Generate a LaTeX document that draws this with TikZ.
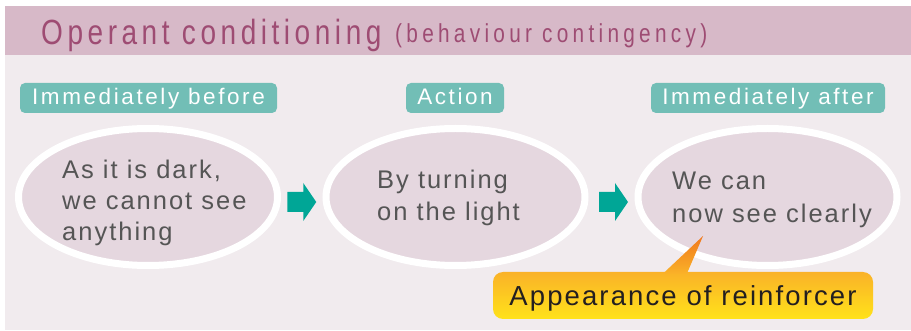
\documentclass[tikz,border=0pt]{standalone}
\usepackage{fontspec}
\setmainfont{Liberation Sans}
\newfontfamily\titlefont{Liberation Sans}[FakeStretch=0.8,LetterSpace=13]
\newfontfamily\subfont{Liberation Sans}[FakeStretch=0.8,LetterSpace=16.5]
\newfontfamily\tagfont{Liberation Sans}[LetterSpace=11.5]
\newfontfamily\bodyfont{Liberation Sans}[LetterSpace=7.8]
\newfontfamily\callfont{Liberation Sans}[LetterSpace=7.7]
\usetikzlibrary{shapes.geometric,calc}
\definecolor{headerc}{RGB}{215,185,200}
\definecolor{panelc}{RGB}{241,235,238}
\definecolor{titlec}{RGB}{158,76,115}
\definecolor{tagc}{RGB}{114,190,182}
\definecolor{ellfill}{RGB}{229,215,223}
\definecolor{arrowc}{RGB}{0,166,150}
\definecolor{bodytext}{RGB}{85,85,85}
\definecolor{calltop}{RGB}{250,178,40}
\definecolor{callbot}{RGB}{255,226,26}
\definecolor{tipc}{RGB}{240,120,30}
\definecolor{calltext}{RGB}{35,31,32}
\begin{document}
\begin{tikzpicture}[x=1pt,y=1pt,
  tagbox/.style={fill=tagc, rounded corners=5pt, minimum height=30pt, inner sep=0pt,
    text=white, text height=16.5pt, text depth=2.5pt, font=\tagfont\fontsize{22.5}{25}\selectfont},
  ellbox/.style={ellipse, draw=white, line width=7pt, fill=ellfill, minimum width=259pt,
    minimum height=137pt, inner sep=0pt},
  bodytxt/.style={anchor=base west, inner sep=0pt, text=bodytext, font=\bodyfont\fontsize{25.5}{31}\selectfont},
  blockarrow/.style={fill=arrowc},
  callbox/.style={rounded corners=10pt, top color=calltop, bottom color=callbot,
    minimum width=380pt, minimum height=47pt, inner sep=0pt, text=calltext,
    text height=20.5pt, text depth=0.5pt, font=\callfont\fontsize{27.5}{30}\selectfont}
]
\useasboundingbox (0,0) rectangle (911,-331);
\fill[white] (0,0) rectangle (911,-331);
\fill[panelc] (5,-55) rectangle (911,-330);
\fill[headerc] (5,-6) rectangle (911,-55);
\node[anchor=base west, inner sep=0pt, text=titlec, font=\titlefont\fontsize{35}{38}\selectfont] (title) at (41,-45) {Operant conditioning};
\node[anchor=base west, inner sep=0pt, text=titlec, font=\subfont\fontsize{26}{28}\selectfont] (sub) at (395,-43) {(behaviour contingency)};

\node[tagbox, minimum width=257pt] (t1) at (148.5,-98) {Immediately before};
\node[tagbox, minimum width=98pt] (t2) at (455,-98) {Action};
\node[tagbox, minimum width=234pt] (t3) at (768,-98) {Immediately after};

\node[ellbox] (e1) at (148,-197) {};
\node[ellbox] (e2) at (455.5,-197) {};
\node[ellbox] (e3) at (767.5,-197) {};

\node[bodytxt] (x1) at (62,-179) {\vtop{\baselineskip=31pt\lineskiplimit=-10pt\hbox{As it is dark,}\hbox{we cannot see}\hbox{anything}}};
\node[bodytxt] (x2) at (377,-189) {\vtop{\baselineskip=32pt\lineskiplimit=-10pt\hbox{By turning}\hbox{on the light}}};
\node[bodytxt] (x3) at (672,-190) {\vtop{\baselineskip=33pt\lineskiplimit=-10pt\hbox{We can}\hbox{now see clearly}}};

\coordinate (m1) at ($(e1.east)!0.5!(e2.west)+(0,-5)$);
\coordinate (m2) at ($(e2.east)!0.5!(e3.west)+(2,-5)$);
\foreach \m in {m1,m2}{
  \fill[blockarrow] ($(\m)+(-14.5,10)$) -- ($(\m)+(1.5,10)$) -- ($(\m)+(1.5,19)$) -- ($(\m)+(14.5,0)$)
    -- ($(\m)+(1.5,-19)$) -- ($(\m)+(1.5,-10)$) -- ($(\m)+(-14.5,-10)$) -- cycle;
}

\node[callbox] (call) at (683,-295.5) {Appearance of reinforcer};
\coordinate (tip) at (703,-236);
\shade[top color=tipc, bottom color=calltop] ($(call.north west)+(170,-2)$) -- (tip) -- ($(call.north west)+(194,-2)$) -- cycle;
\end{tikzpicture}
\end{document}
